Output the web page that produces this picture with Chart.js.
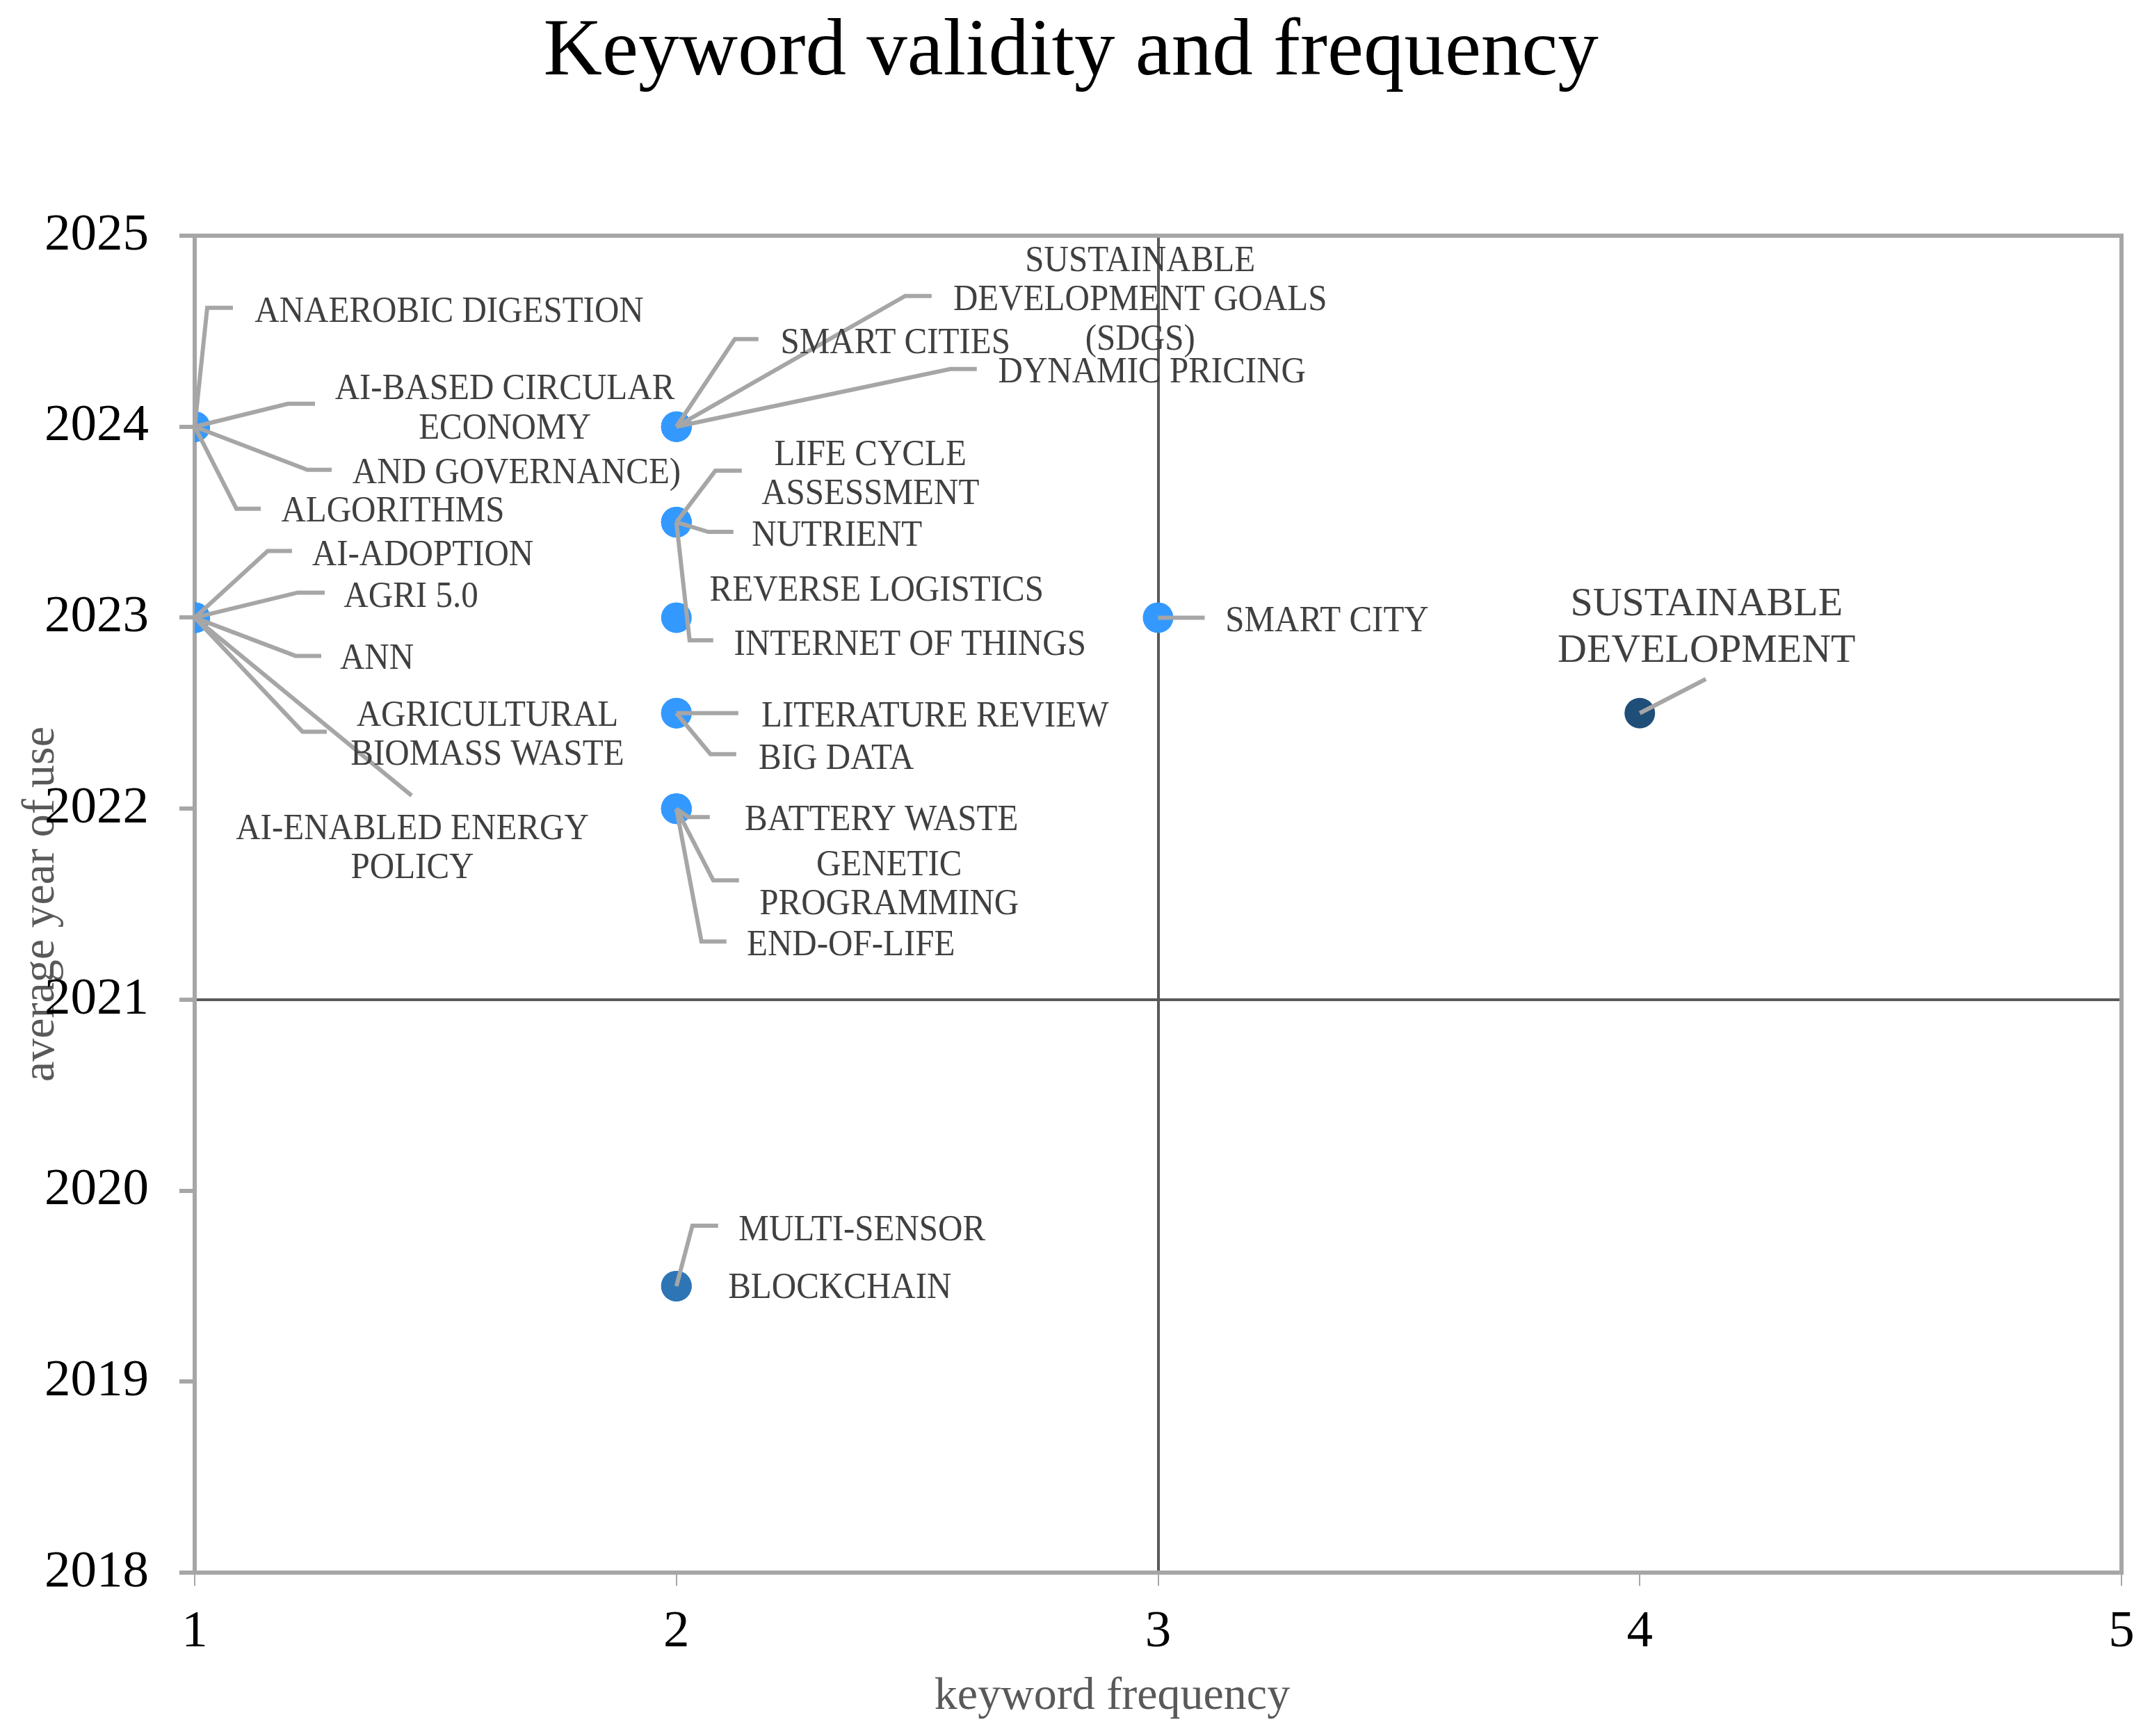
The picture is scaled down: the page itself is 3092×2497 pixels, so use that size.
<!DOCTYPE html>
<html>
<head>
<meta charset="utf-8">
<script src="https://cdn.jsdelivr.net/npm/chart.js@4.4.1/dist/chart.umd.min.js"></script>
<style>
html,body{margin:0;padding:0;background:#fff;}
#wrap{width:3092px;height:2497px;position:relative;}
</style>
</head>
<body>
<div id="wrap"><canvas id="c"></canvas></div>
<script>
// ---------------- DATA ----------------
const keywords = [
  'ANAEROBIC DIGESTION', 'AI-BASED CIRCULAR ECONOMY', 'AND GOVERNANCE)', 'ALGORITHMS',
  'AI-ADOPTION', 'AGRI 5.0', 'ANN', 'AGRICULTURAL BIOMASS WASTE', 'AI-ENABLED ENERGY POLICY',
  'SMART CITIES', 'SUSTAINABLE DEVELOPMENT GOALS (SDGS)', 'DYNAMIC PRICING',
  'LIFE CYCLE ASSESSMENT', 'NUTRIENT', 'INTERNET OF THINGS',
  'REVERSE LOGISTICS',
  'LITERATURE REVIEW', 'BIG DATA',
  'BATTERY WASTE', 'GENETIC PROGRAMMING', 'END-OF-LIFE',
  'SMART CITY',
  'SUSTAINABLE DEVELOPMENT',
  'MULTI-SENSOR', 'BLOCKCHAIN'
];
const frequency = [
  1, 1, 1, 1,
  1, 1, 1, 1, 1,
  2, 2, 2,
  2, 2, 2,
  2,
  2, 2,
  2, 2, 2,
  3,
  4,
  2, 2
];
const avgYear = [
  2024, 2024, 2024, 2024,
  2023, 2023, 2023, 2023, 2023,
  2024, 2024, 2024,
  2023.5, 2023.5, 2023.5,
  2023,
  2022.5, 2022.5,
  2022, 2022, 2022,
  2023,
  2022.5,
  2019.5, 2019.5
];
const xTickValues = [1, 2, 3, 4, 5];
const yTickValues = [2018, 2019, 2020, 2021, 2022, 2023, 2024, 2025];
const titleText = 'Keyword validity and frequency';
const xTitle = 'keyword frequency';
const yTitle = 'average year of use';

// ---------------- STYLE / LAYOUT ----------------
const defaultPointColor = '#3399FF';
const pointColorOverrides = {
  'SUSTAINABLE DEVELOPMENT': '#1F4E79',
  'MULTI-SENSOR': '#2E75B6',
  'BLOCKCHAIN': '#2E75B6'
};
// label placement, in pixel offsets from the point's own pixel position
const labelLayout = {
  'ANAEROBIC DIGESTION': {dx: 366, dy: -169, leader: [[18,-171],[55,-171]]},
  'AI-BASED CIRCULAR ECONOMY': {dx: 446, dy: -30, lines: ['AI-BASED CIRCULAR','ECONOMY'], leader: [[134,-33],[173,-33]]},
  'AND GOVERNANCE)': {dx: 463, dy: 63, leader: [[162,62],[197,62]]},
  'ALGORITHMS': {dx: 285, dy: 118, leader: [[60,118],[95,118]]},
  'AI-ADOPTION': {dx: 328, dy: -94, leader: [[105,-96],[140,-96]]},
  'AGRI 5.0': {dx: 311, dy: -34, leader: [[148,-36],[187,-36]]},
  'ANN': {dx: 262, dy: 55, leader: [[145,55],[182,55]]},
  'AGRICULTURAL BIOMASS WASTE': {dx: 421, dy: 165, lines: ['AGRICULTURAL','BIOMASS WASTE'], leader: [[155,164],[190,164]]},
  'AI-ENABLED ENERGY POLICY': {dx: 313, dy: 328, lines: ['AI-ENABLED ENERGY','POLICY'], leader: [[312,256]]},
  'SMART CITIES': {dx: 315, dy: -124, leader: [[84,-126],[118,-126]]},
  'SUSTAINABLE DEVELOPMENT GOALS (SDGS)': {dx: 667, dy: -186, lines: ['SUSTAINABLE','DEVELOPMENT GOALS','(SDGS)'], leader: [[329,-188],[367,-188]]},
  'DYNAMIC PRICING': {dx: 684, dy: -82, leader: [[394,-83],[432,-83]]},
  'LIFE CYCLE ASSESSMENT': {dx: 279, dy: -73, lines: ['LIFE CYCLE','ASSESSMENT'], leader: [[56,-74],[94,-74]]},
  'NUTRIENT': {dx: 231, dy: 15, leader: [[46,14],[82,14]]},
  'INTERNET OF THINGS': {dx: 336, dy: 172, leader: [[19,170],[53,170]]},
  'REVERSE LOGISTICS': {dx: 288, dy: -43},
  'LITERATURE REVIEW': {dx: 372, dy: 0, leader: [[89,0]]},
  'BIG DATA': {dx: 230, dy: 61, leader: [[49,59],[86,59]]},
  'BATTERY WASTE': {dx: 295, dy: 12, leader: [[17,12],[48,12]]},
  'GENETIC PROGRAMMING': {dx: 306, dy: 105, lines: ['GENETIC','PROGRAMMING'], leader: [[53,103],[90,103]]},
  'END-OF-LIFE': {dx: 251, dy: 192, leader: [[36,191],[72,191]]},
  'SMART CITY': {dx: 243, dy: 1, leader: [[67,0]]},
  'SUSTAINABLE DEVELOPMENT': {dx: 96, dy: -128, lines: ['SUSTAINABLE','DEVELOPMENT'], size: 58, lh: 67, sy: 1.0, leader: [[95,-49]]},
  'MULTI-SENSOR': {dx: 267, dy: -85, leader: [[23,-87],[60,-87]]},
  'BLOCKCHAIN': {dx: 235, dy: -2}
};
const LABEL_SHIFT_Y = 5;

const SERIF = '"Liberation Serif", "Times New Roman", serif';

const framePlugin = {
  id: 'frame',
  beforeDatasetsDraw(chart) {
    const {ctx, chartArea: a} = chart;
    ctx.save();
    ctx.strokeStyle = '#A6A6A6';
    ctx.lineWidth = 6;
    ctx.lineCap = 'butt';
    ctx.beginPath();
    ctx.moveTo(a.left - 3, a.top);
    ctx.lineTo(a.right, a.top);
    ctx.lineTo(a.right, a.bottom + 3);
    ctx.stroke();
    ctx.restore();
  }
};

const labelPlugin = {
  id: 'kwLabels',
  afterDatasetsDraw(chart) {
    const ctx = chart.ctx;
    const meta = chart.getDatasetMeta(0);
    // leaders
    meta.data.forEach((pt, i) => {
      const L = labelLayout[keywords[i]];
      if (!L || !L.leader) return;
      ctx.save();
      ctx.beginPath();
      ctx.moveTo(pt.x, pt.y);
      L.leader.forEach(([dx, dy]) => ctx.lineTo(pt.x + dx, pt.y + dy));
      ctx.strokeStyle = '#A6A6A6';
      ctx.lineWidth = 6;
      ctx.lineJoin = 'miter';
      ctx.stroke();
      ctx.restore();
    });
    // texts
    meta.data.forEach((pt, i) => {
      const k = keywords[i];
      const L = labelLayout[k];
      if (!L) return;
      const size = L.size || 49;
      const lh = L.lh || 56.5;
      const sy = (L.sy === undefined) ? 1.07 : L.sy;
      const lines = L.lines || [k];
      ctx.save();
      ctx.font = size + 'px ' + SERIF;
      ctx.fillStyle = '#404040';
      ctx.textAlign = 'center';
      ctx.textBaseline = 'middle';
      ctx.translate(pt.x + L.dx, pt.y + L.dy + LABEL_SHIFT_Y);
      ctx.scale(1, sy);
      lines.forEach((s, j) => {
        ctx.fillText(s, 0, ((j - (lines.length - 1) / 2) * lh) / sy);
      });
      ctx.restore();
    });
  }
};

const points = keywords.map((k, i) => ({x: frequency[i], y: avgYear[i]}));
const colors = keywords.map(k => pointColorOverrides[k] || defaultPointColor);

new Chart(document.getElementById('c'), {
  type: 'scatter',
  data: {
    datasets: [{
      label: 'keywords',
      data: points,
      pointRadius: 22,
      pointHoverRadius: 22,
      pointBorderWidth: 0,
      pointBackgroundColor: colors,
      pointBorderColor: colors
    }]
  },
  options: {
    responsive: true,
    maintainAspectRatio: false,
    animation: false,
    events: [],
    layout: {padding: {left: 0, right: 41, top: 0, bottom: 0}},
    plugins: {
      legend: {display: false},
      tooltip: {enabled: false},
      title: {
        display: true,
        text: '\u00A0' + titleText,
        color: '#000000',
        font: {family: SERIF, size: 117, weight: 'normal', lineHeight: 1},
        padding: {top: 18, bottom: 204}
      }
    },
    scales: {
      x: {
        type: 'linear',
        min: xTickValues[0],
        max: xTickValues[xTickValues.length - 1],
        afterBuildTicks: s => { s.ticks = xTickValues.map(v => ({value: v})); },
        afterFit: s => { s.height = 235; },
        ticks: {
          color: '#000000',
          font: {family: SERIF, size: 75},
          padding: 22,
          maxRotation: 0,
          callback: v => String(v)
        },
        grid: {
          color: c => (c.tick && c.tick.value === 3) ? '#595959' : 'rgba(0,0,0,0)',
          lineWidth: 4,
          drawTicks: true,
          tickLength: 19,
          tickColor: '#A6A6A6',
          tickWidth: 2
        },
        border: {display: true, color: '#A6A6A6', width: 6},
        title: {
          display: true,
          text: xTitle + '\u00A0\u00A0\u00A0\u00A0\u00A0\u00A0\u00A0\u00A0',
          color: '#595959',
          font: {family: SERIF, size: 66, lineHeight: 1},
          padding: {top: 0, bottom: 23}
        }
      },
      y: {
        type: 'linear',
        min: yTickValues[0],
        max: yTickValues[yTickValues.length - 1],
        afterBuildTicks: s => { s.ticks = yTickValues.map(v => ({value: v})); },
        afterFit: s => { s.width = 280; },
        ticks: {
          color: '#000000',
          font: {family: SERIF, size: 75},
          padding: 44,
          callback: v => String(v)
        },
        grid: {
          color: c => (c.tick && c.tick.value === 2021) ? '#595959' : 'rgba(0,0,0,0)',
          lineWidth: 4,
          drawTicks: true,
          tickLength: 22,
          tickColor: '#A6A6A6',
          tickWidth: 6
        },
        border: {display: true, color: '#A6A6A6', width: 6},
        title: {
          display: true,
          text: yTitle,
          color: '#595959',
          font: {family: SERIF, size: 66, lineHeight: 1},
          padding: {top: 27, bottom: 0}
        }
      }
    }
  },
  plugins: [framePlugin, labelPlugin]
});
</script>
</body>
</html>
